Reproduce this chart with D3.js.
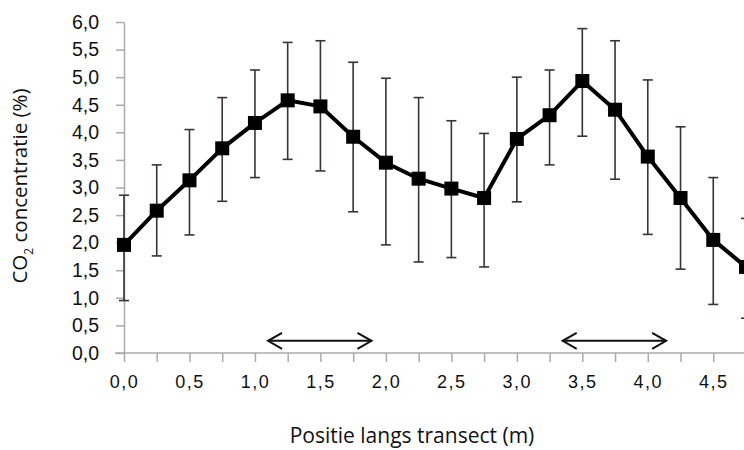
<!DOCTYPE html>
<html>
<head>
<meta charset="utf-8">
<script src="https://cdn.jsdelivr.net/npm/d3@7/dist/d3.min.js"></script>
<style>
  body { margin: 0; background: #fff; }
  svg { display: block; font-family: "Open Sans", "Noto Sans", sans-serif; }
  .axis path, .axis line { stroke: #aaa; stroke-width: 1.5; }
  .axis text { fill: #111; }
</style>
</head>
<body>
<div id="chart"></div>
<script>
// Position along transect (m)
const positions = [0, 0.25, 0.5, 0.75, 1.0, 1.25, 1.5, 1.75, 2.0, 2.25,
                   2.5, 2.75, 3.0, 3.25, 3.5, 3.75, 4.0, 4.25, 4.5, 4.75];
// CO2 concentration (%) mean and error bar ends
const co2Mean  = [1.96, 2.58, 3.13, 3.71, 4.17, 4.58, 4.47, 3.92, 3.45, 3.16,
                  2.98, 2.81, 3.88, 4.31, 4.93, 4.41, 3.56, 2.81, 2.05, 1.56];
const co2Upper = [2.86, 3.41, 4.05, 4.63, 5.13, 5.63, 5.66, 5.27, 4.98, 4.63,
                  4.21, 3.98, 5.00, 5.13, 5.88, 5.66, 4.95, 4.10, 3.18, 2.44];
const co2Lower = [0.95, 1.76, 2.14, 2.75, 3.18, 3.51, 3.30, 2.56, 1.96, 1.65,
                  1.73, 1.56, 2.74, 3.41, 3.93, 3.15, 2.15, 1.52, 0.88, 0.63];

const yTicks = [0, 0.5, 1, 1.5, 2, 2.5, 3, 3.5, 4, 4.5, 5, 5.5, 6];
const xLabelTicks = [0, 0.5, 1, 1.5, 2, 2.5, 3, 3.5, 4, 4.5];

// double-headed arrows (start, end, height) in data units
const arrows = [[1.10, 1.89, 0.22], [3.35, 4.14, 0.22]];

const width = 744, height = 450;
const fmt = d => d.toFixed(1).replace('.', ',');

const svg = d3.select('#chart').append('svg')
    .attr('width', width)
    .attr('height', height);

// Scales (chart is cut off at the right edge, last point sits past 744)
const xScale = d3.scaleLinear().domain([0, 4.75]).range([124, 746]);
const yScale = d3.scaleLinear().domain([0, 6]).range([353, 22]);

// x axis line, starts left of the y axis
svg.append('line')
    .attr('x1', 115).attr('x2', width)
    .attr('y1', yScale(0)).attr('y2', yScale(0))
    .attr('stroke', '#aaa').attr('stroke-width', 1.5);

// x axis ticks at every position, labels every 0.5
const xAxis = d3.axisBottom(xScale)
    .tickValues(positions)
    .tickSize(9)
    .tickSizeOuter(0)
    .tickPadding(13)
    .tickFormat(d => xLabelTicks.includes(d) ? fmt(d) : '');

const gx = svg.append('g')
    .attr('class', 'axis')
    .attr('transform', `translate(0,${yScale(0)})`)
    .call(xAxis);
gx.select('.domain').remove();
gx.selectAll('text')
    .attr('font-size', 18)
    .attr('letter-spacing', 1.5);

// y axis
const yAxis = d3.axisLeft(yScale)
    .tickValues(yTicks)
    .tickSize(8)
    .tickSizeOuter(0)
    .tickPadding(17)
    .tickFormat(fmt);

const gy = svg.append('g')
    .attr('class', 'axis')
    .attr('transform', `translate(${xScale(0)},0)`)
    .call(yAxis);
gy.selectAll('text').attr('font-size', 19.5);

// Error bars
const eb = svg.append('g');
positions.forEach((p, i) => {
    const cx = xScale(p);
    eb.append('line')
        .attr('x1', cx).attr('x2', cx)
        .attr('y1', yScale(co2Upper[i])).attr('y2', yScale(co2Lower[i]))
        .attr('stroke', '#3b3333').attr('stroke-width', 1.6);
    [co2Upper[i], co2Lower[i]].forEach(v => {
        eb.append('line')
            .attr('x1', cx - 5).attr('x2', cx + 5)
            .attr('y1', yScale(v)).attr('y2', yScale(v))
            .attr('stroke', '#3b3333').attr('stroke-width', 1.6);
    });
});

// Line
const line = d3.line()
    .x((d, i) => xScale(positions[i]))
    .y(d => yScale(d));

svg.append('path')
    .datum(co2Mean)
    .attr('d', line)
    .attr('fill', 'none')
    .attr('stroke', '#000')
    .attr('stroke-width', 4)
    .attr('stroke-linejoin', 'round');

// Square markers
svg.append('g')
    .selectAll('rect')
    .data(co2Mean)
    .join('rect')
    .attr('x', (d, i) => xScale(positions[i]) - 7)
    .attr('y', d => yScale(d) - 7)
    .attr('width', 14)
    .attr('height', 14)
    .attr('fill', '#000');

// Arrows
const ag = svg.append('g')
    .attr('stroke', '#111')
    .attr('stroke-width', 2)
    .attr('fill', 'none');
arrows.forEach(([a, b, h]) => {
    const x1 = xScale(a), x2 = xScale(b), y = yScale(h);
    ag.append('line').attr('x1', x1).attr('x2', x2).attr('y1', y).attr('y2', y);
    ag.append('path').attr('d', `M${x1 + 14},${y - 8} L${x1},${y} L${x1 + 14},${y + 8}`);
    ag.append('path').attr('d', `M${x2 - 14},${y - 8} L${x2},${y} L${x2 - 14},${y + 8}`);
});

// Axis titles
svg.append('text')
    .attr('x', 412)
    .attr('y', 443)
    .attr('text-anchor', 'middle')
    .attr('font-size', 21)
    .attr('fill', '#111')
    .text('Positie langs transect (m)');

const yt = svg.append('text')
    .attr('transform', 'translate(27,186) rotate(-90)')
    .attr('text-anchor', 'middle')
    .attr('font-size', 20.5)
    .attr('fill', '#111');
yt.append('tspan').text('CO');
yt.append('tspan').text('2').attr('font-size', 12).attr('dy', 6);
yt.append('tspan').text(' concentratie (%)').attr('dy', -6);
</script>
</body>
</html>
